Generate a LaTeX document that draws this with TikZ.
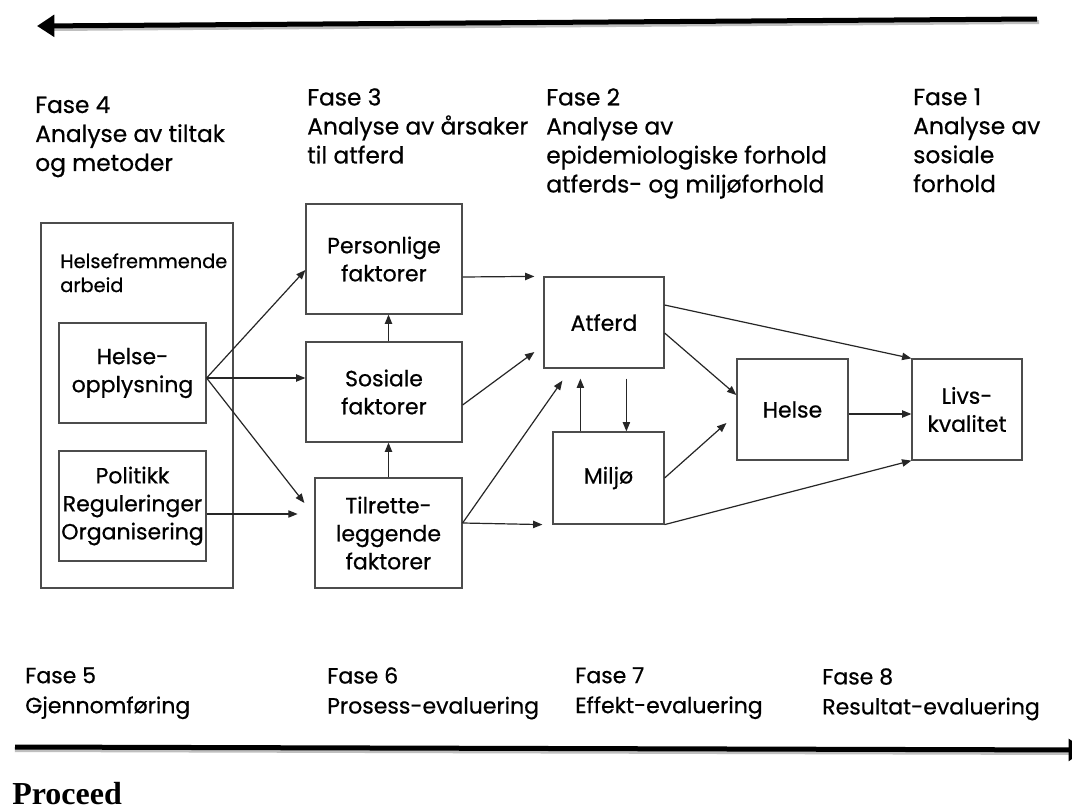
\documentclass[tikz,border=0pt]{standalone}
\usepackage{fontspec}
\setmainfont{Poppins}[FakeBold=0.6]
\newfontfamily\procfont{Liberation Serif}
\usetikzlibrary{arrows.meta,calc}
\begin{document}
\begin{tikzpicture}[x=0.75pt,y=-0.75pt,
  box/.style={draw=black!70,line width=0.9pt,inner sep=0pt,align=center,
    font=\fontsize{16.5pt}{21pt}\selectfont},
  arr/.style={draw=black!85,line width=0.9pt,-{Triangle[length=7pt,width=5.5pt]}},
  hdr/.style={anchor=north west,inner sep=0pt,align=left,
    font=\fontsize{17.5pt}{21.75pt}\selectfont},
  ftr/.style={anchor=north west,inner sep=0pt,align=left,
    font=\fontsize{16.5pt}{22.5pt}\selectfont},
  bigarrow/.style={line width=3.75pt,-{Triangle[length=13pt,width=16pt]}},
  shadowline/.style={draw=black!25,line width=3pt}]
\useasboundingbox (0,0) rectangle (1072,810);
\fill[white] (0,0) rectangle (1072,810);

% top and bottom arrows
\coordinate (tr) at (1037,19);
\coordinate (tl) at (37,26);
\coordinate (bl) at (15,747);
\coordinate (br) at (1086,750);
\draw[shadowline] ($(tr)+(2,3)$) -- ($(tl)+(15,3)$);
\draw[bigarrow] (tr) -- (tl);
\draw[shadowline] ($(bl)+(0,3)$) -- ($(br)+(-15,3)$);
\draw[bigarrow] (bl) -- (br);

% headers
\node[hdr] (f4) at (35,96) {Fase 4\\Analyse av tiltak\\og metoder};
\node[hdr] (f3) at (307,88) {Fase 3\\Analyse av årsaker\\til atferd};
\node[hdr] (f2) at (546,88) {Fase 2\\Analyse av\\epidemiologiske forhold\\atferds- og miljøforhold};
\node[hdr] (f1) at (913,88) {Fase 1\\Analyse av\\sosiale\\forhold};

% footers
\node[ftr] (f5) at (25,667) {Fase 5\\Gjennomføring};
\node[ftr] (f6) at (327,667) {Fase 6\\Prosess-evaluering};
\node[ftr] (f7) at (575,667) {Fase 7\\Effekt-evaluering};
\node[ftr] (f8) at (822,668) {Fase 8\\Resultat-evaluering};
\node[anchor=base west,inner sep=0pt,font=\procfont\bfseries\fontsize{24pt}{28pt}\selectfont] (proc) at (12,804) {Proceed};

% boxes
\node[box,minimum width=144pt,minimum height=273.75pt] (outer) at (137,405.5) {};
\node[anchor=north west,inner sep=0pt,align=left,font=\fontsize{14.5pt}{18pt}\selectfont] (hfa) at (60,253) {Helsefremmende\\arbeid};
\node[box,minimum width=110.25pt,minimum height=75pt] (hop) at (132.5,373) {Helse-\\opplysning};
\node[box,minimum width=110.25pt,minimum height=82.5pt] (pol) at (132.5,506) {Politikk\\Reguleringer\\Organisering};
\node[box,minimum width=117pt,minimum height=82.5pt] (pers) at (384,259) {Personlige\\faktorer};
\node[box,minimum width=117pt,minimum height=75pt] (sos) at (384,392) {Sosiale\\faktorer};
\node[box,minimum width=110.25pt,minimum height=82.5pt] (til) at (388.5,533) {Tilrette-\\leggende\\faktorer};
\node[box,minimum width=90pt,minimum height=68.25pt] (atf) at (604,322.5) {Atferd};
\node[box,minimum width=83.25pt,minimum height=69pt] (mil) at (608.5,478) {Miljø};
\node[box,minimum width=83.25pt,minimum height=75.75pt] (hel) at (792.5,409.5) {Helse};
\node[box,minimum width=82.5pt,minimum height=75.75pt] (liv) at (967,409.5) {Livs-\\kvalitet};

% connectors
\coordinate (hopout) at ($(hop.east)+(0,5)$);
\coordinate (polout) at ($(pol.east)+(0,8)$);
\coordinate (tilout) at ($(til.east)+(0,-10)$);
\draw[arr] (hopout) -- ($(pers.west)+(0,11)$);
\draw[arr] (hopout) -- (hopout -| sos.west);
\draw[arr] (hopout) -- ($(til.west)+(-10,-30)$);
\draw[arr] (polout) -- ($(polout)+(91,0)$);
\draw[arr] (til.north |- sos.north) -- (til.north |- pers.south);
\draw[arr] (til.north) -- (til.north |- sos.south);
\draw[arr] ($(pers.east)+(0,18)$) -- ($(atf.north west)+(-9,0)$);
\draw[arr] ($(sos.east)+(0,13)$) -- ($(atf.west)+(-9,29.5)$);
\draw[arr] (tilout) -- ($(atf.south west)+(19,12)$);
\draw[arr] (tilout) -- ($(mil.south west)+(-10,0)$);
\draw[arr] ($(mil.north west)+(28,0)$) -- ($(atf.south west)+(37,10)$);
\draw[arr] ($(atf.south west)+(83,10)$) -- ($(mil.north west)+(74,0)$);
\draw[arr] ($(atf.east)+(0,-17.5)$) -- (liv.north west);
\draw[arr] ($(atf.east)+(0,10.5)$) -- ($(hel.west)+(0,-14.5)$);
\draw[arr] (mil.east) -- ($(hel.west)+(-10,13.5)$);
\draw[arr] (mil.south east) -- (liv.south west);
\draw[arr] ($(hel.east)+(0,4.5)$) -- ($(liv.west)+(0,4.5)$);
\end{tikzpicture}
\end{document}
